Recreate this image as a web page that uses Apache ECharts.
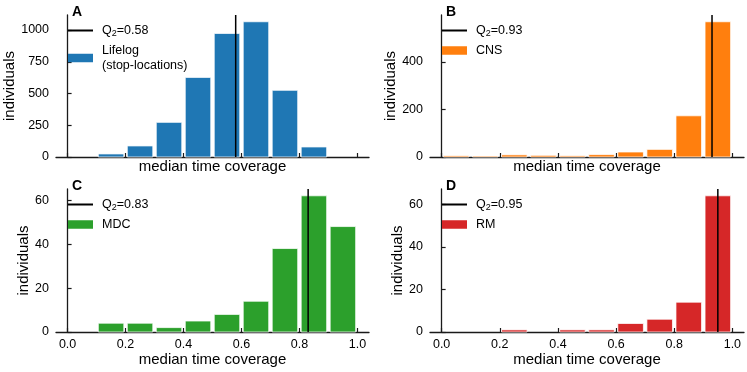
<!DOCTYPE html>
<html>
<head>
	<meta charset="utf-8" />
	<script type="text/javascript" src="https://cdn.jsdelivr.net/npm/echarts@6/dist/echarts.min.js"></script>
	<style type="text/css">
		html, body { margin: 0; padding: 0; background: #fff; }
		#container { width: 747px; height: 372px; }
	</style>
</head>
<body>
<div id="container"></div>
<script type="text/javascript">
	// histogram bins (left edges, width 0.1)
	var binStarts = [0.0, 0.1, 0.2, 0.3, 0.4, 0.5, 0.6, 0.7, 0.8, 0.9];
	var binWidth = 0.1;

	// counts per bin
	var lifelog = [0, 24, 87, 273, 627, 973, 1065, 525, 79, 0];
	var cns = [5, 4, 9, 7, 5, 10, 21, 32, 173, 568];
	var mdc = [0, 4, 4, 2, 5, 8, 14, 38, 62, 48];
	var rm = [0, 0, 1, 0, 1, 1, 4, 6, 14, 64];

	// medians
	var medians = [0.58, 0.93, 0.83, 0.95];

	var panelNames = ['A', 'B', 'C', 'D'];
	var seriesNames = ['Lifelog\n(stop-locations)', 'CNS', 'MDC', 'RM'];
	var colors = ['#1f77b4', '#ff7f0e', '#2ca02c', '#d62728'];

	// tick labels
	var xTicks = [0, 0.2, 0.4, 0.6, 0.8, 1.0];
	var yTicksA = [0, 250, 500, 750, 1000];
	var yTicksB = [0, 200, 400];
	var yTicksC = [0, 20, 40, 60];
	var yTicksD = [0, 20, 40, 60];

	var counts = [lifelog, cns, mdc, rm];
	var yTicks = [yTicksA, yTicksB, yTicksC, yTicksD];

	var FONT = 'Liberation Sans, Arial, Helvetica, sans-serif';
	var AXIS_COLOR = '#1a1a1a';

	// panel geometry
	var grids = [
		{ left: 56, top: 15, width: 313, height: 142 },
		{ left: 430, top: 15, width: 314, height: 142 },
		{ left: 56, top: 189, width: 313, height: 143 },
		{ left: 430, top: 189, width: 314, height: 143 }
	];
	var yNameGap = [32, 29, 22, 22];
	var showXLabels = [false, false, true, true];

	var chart = echarts.init(document.getElementById('container'));

	var option = {
		animation: false,
		textStyle: { fontFamily: FONT },
		title: [],
		legend: [],
		grid: [],
		xAxis: [],
		yAxis: [],
		series: []
	};

	function medName(i) {
		return 'Q2=' + medians[i].toFixed(2);
	}

	for (var i = 0; i < 4; i++) {
		var g = grids[i];
		var data = binStarts.map(function (b, k) { return [b, counts[i][k]]; });
		var yMax = Math.max.apply(null, counts[i]) * 1.05;

		option.grid.push({ left: g.left, top: g.top, width: g.width, height: g.height });

		option.title.push({
			text: panelNames[i],
			left: g.left + 16,
			top: g.top - 10,
			padding: 0,
			textStyle: { fontFamily: FONT, fontSize: 14, fontWeight: 'bold', color: '#000' }
		});

		option.legend.push({
			orient: 'vertical',
			left: g.left + 11,
			top: g.top + 8,
			padding: 0,
			itemWidth: 25,
			itemHeight: 8.5,
			itemGap: 5,
			selectedMode: false,
			data: [
				{ name: medName(i), itemStyle: { opacity: 0 } },
				{ name: seriesNames[i], icon: 'rect' }
			],
			formatter: function (name) {
				if (name.indexOf('Q2=') === 0) {
					return '{q|Q}{s|2}{q|' + name.slice(2) + '}';
				}
				return name;
			},
			textStyle: {
				fontFamily: FONT,
				fontSize: 12.5,
				color: '#000',
				lineHeight: 15,
				padding: [0, 0, 0, 4],
				rich: {
					q: { fontFamily: FONT, fontSize: 12.5, color: '#000', lineHeight: 15 },
					s: { fontFamily: FONT, fontSize: 9, color: '#000', lineHeight: 15, verticalAlign: 'bottom', padding: [4, 0, 0, 0] }
				}
			}
		});

		option.xAxis.push({
			type: 'value',
			gridIndex: i,
			min: -0.04,
			max: 1.04,
			name: 'median time coverage',
			nameLocation: 'middle',
			nameGap: showXLabels[i] ? 20 : 2,
			nameTextStyle: { fontFamily: FONT, fontSize: 15, color: '#000', verticalAlign: 'top' },
			axisLine: { show: true, onZero: false, lineStyle: { color: AXIS_COLOR, width: 1.3 } },
			axisTick: { show: true, inside: true, length: 4, customValues: xTicks, lineStyle: { color: AXIS_COLOR, width: 1.2 } },
			axisLabel: {
				show: showXLabels[i],
				customValues: xTicks,
				margin: 6,
				fontFamily: FONT,
				fontSize: 12.5,
				color: '#000',
				formatter: function (v) { return v.toFixed(1); }
			},
			splitLine: { show: false }
		});

		option.yAxis.push({
			type: 'value',
			gridIndex: i,
			min: 0,
			max: yMax,
			name: 'individuals',
			nameLocation: 'middle',
			nameGap: yNameGap[i],
			nameTextStyle: { fontFamily: FONT, fontSize: 15, color: '#000' },
			axisLine: { show: true, lineStyle: { color: AXIS_COLOR, width: 1.3 } },
			axisTick: { show: true, inside: true, length: 4, customValues: yTicks[i], lineStyle: { color: AXIS_COLOR, width: 1.2 } },
			axisLabel: {
				customValues: yTicks[i],
				margin: 7,
				fontFamily: FONT,
				fontSize: 12.5,
				color: '#000',
				formatter: function (v) { return String(v); }
			},
			splitLine: { show: false }
		});

		// histogram bars
		option.series.push({
			type: 'custom',
			name: seriesNames[i],
			xAxisIndex: i,
			yAxisIndex: i,
			itemStyle: { color: colors[i] },
			encode: { x: 0, y: 1 },
			data: data,
			z: 2,
			renderItem: (function (color) {
				return function (params, api) {
					var lo = api.value(0);
					var c = api.value(1);
					if (!c) return null;
					var pad = 0.006;
					var p0 = api.coord([lo + pad, c]);
					var p1 = api.coord([lo + binWidth - pad, 0]);
					return {
						type: 'rect',
						shape: { x: p0[0], y: p0[1], width: p1[0] - p0[0], height: p1[1] - p0[1] },
						style: { fill: color, stroke: 'rgba(255,255,255,0.75)', lineWidth: 1 }
					};
				};
			})(colors[i])
		});

		// median line, spanning the full y range
		option.series.push({
			type: 'line',
			name: medName(i),
			xAxisIndex: i,
			yAxisIndex: i,
			data: [[medians[i], 0], [medians[i], yMax]],
			symbol: 'none',
			showSymbol: false,
			silent: true,
			itemStyle: { color: '#000' },
			lineStyle: { color: '#000', width: 1.5 },
			z: 5
		});
	}

	chart.setOption(option);
</script>
</body>
</html>
